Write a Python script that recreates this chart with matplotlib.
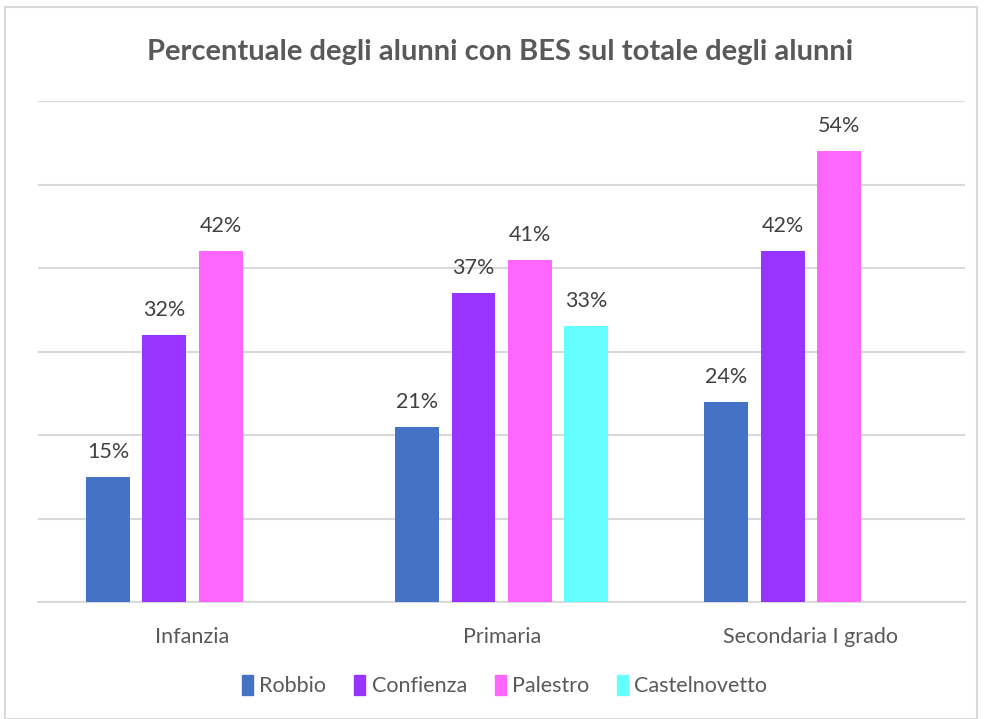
import numpy as np
import matplotlib.pyplot as plt
from matplotlib.patches import Rectangle

categories = ["Infanzia", "Primaria", "Secondaria I grado"]
series = ["Robbio", "Confienza", "Palestro", "Castelnovetto"]
values = {
    "Robbio": [15, 21, 24],
    "Confienza": [32, 37, 42],
    "Palestro": [42, 41, 54],
    "Castelnovetto": [None, 33, None],
}
colors = ["#4472C4", "#9933FF", "#FF66FF", "#66FFFF"]

plt.rcParams['font.family'] = ['Lato', 'DejaVu Sans']

fig = plt.figure(figsize=(9.84, 7.19), dpi=100)
ax = fig.add_axes([0.0386, 0.1627, 0.9424, 0.6968])

x = np.arange(len(categories))
step = 0.182
width = 0.142
for i, s in enumerate(series):
    off = (i - 1.5) * step
    for j, v in enumerate(values[s]):
        if v is None:
            continue
        ax.bar(x[j] + off, v, width, color=colors[i], zorder=3)
        ax.text(x[j] + off, v + 1.8, "{}%".format(v), ha='center', va='bottom',
                fontsize=15.5, color='#404040')

ax.set_xlim(-0.5, 2.5)
ax.set_ylim(0, 60)
ax.set_yticks(np.arange(0, 61, 10))
ax.yaxis.grid(True, color='#D9D9D9', linewidth=1.5, zorder=0)
ax.tick_params(axis='y', length=0, labelleft=False)
ax.tick_params(axis='x', length=0, pad=18, labelsize=15.5, labelcolor='#595959')
ax.set_xticks(x)
ax.set_xticklabels(categories)
for side in ['top', 'right', 'left']:
    ax.spines[side].set_visible(False)
ax.spines['bottom'].set_color('#D9D9D9')
ax.spines['bottom'].set_linewidth(1.5)

fig.text(0.508, 0.928, "Percentuale degli alunni con BES sul totale degli alunni",
         ha='center', va='center', fontsize=21, color='#595959', fontweight='bold')

handles = [Rectangle((0, 0), 1, 1, color=c) for c in colors]
fig.legend(handles, series, loc='center', bbox_to_anchor=(0.513, 0.046), ncol=4,
           frameon=False, fontsize=15.5, handlelength=0.5, handleheight=1.0,
           handletextpad=0.3, columnspacing=1.3, labelcolor='#595959')

fig.patches.append(Rectangle((0.005, 0.0), 0.988, 0.99, transform=fig.transFigure,
                             fill=False, edgecolor='#D9D9D9', linewidth=1.5))

plt.savefig("out.png")
